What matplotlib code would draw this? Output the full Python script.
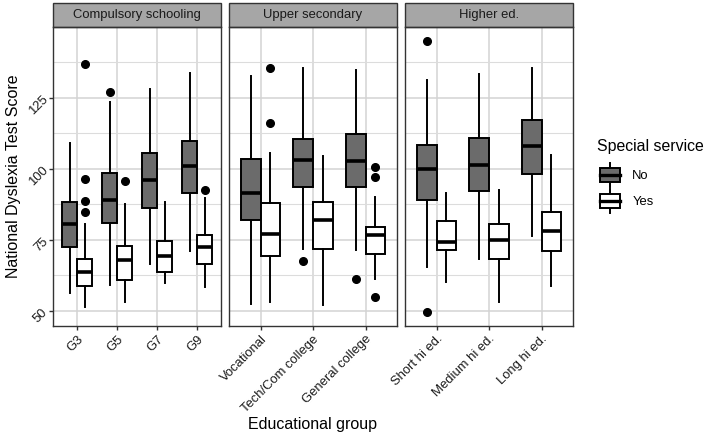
import matplotlib
matplotlib.use("Agg")
import matplotlib.pyplot as plt
from matplotlib.patches import Patch, Rectangle
from matplotlib.lines import Line2D
from matplotlib.legend_handler import HandlerBase

plt.rcParams["font.family"] = ["Liberation Sans", "DejaVu Sans"]

# ── data (whislo, q1, median, q3, whishi) ─────────────────────────────────────
comp_groups = ["G3", "G5", "G7", "G9"]
comp_no_stats = [
    [56.2, 72.3, 80.4, 88.3, 109.0],
    [58.9, 80.8, 89.0, 98.6, 123.6],
    [66.6, 86.3, 96.0, 105.6, 127.9],
    [70.9, 91.5, 100.8, 109.8, 133.8],
]
comp_no_out = [[], [126.9], [], []]
comp_yes_stats = [
    [51.4, 58.6, 63.5, 68.3, 80.6],
    [53.1, 60.7, 67.8, 72.8, 87.6],
    [59.8, 63.5, 69.2, 74.5, 88.2],
    [58.2, 66.6, 72.3, 76.8, 89.7],
]
comp_yes_out = [[136.7, 96.3, 88.5, 84.9], [95.6], [], [92.5]]

upper_groups = ["Vocational", "Tech/Com college", "General college"]
upper_no_stats = [
    [52.3, 81.8, 91.6, 103.4, 132.8],
    [71.8, 93.5, 103.2, 110.6, 135.5],
    [71.5, 93.6, 102.6, 112.2, 134.7],
]
upper_no_out = [[], [67.4], [61.2]]
upper_yes_stats = [
    [53.1, 69.2, 77.1, 88.0, 105.6],
    [52.0, 71.8, 81.9, 88.4, 104.4],
    [61.0, 69.8, 76.5, 79.4, 89.9],
]
upper_yes_out = [[135.5, 116.0], [], [100.5, 97.0, 54.9]]

higher_groups = ["Short hi ed.", "Medium hi ed.", "Long hi ed."]
higher_no_stats = [
    [65.4, 88.9, 99.9, 108.2, 131.2],
    [68.3, 92.3, 101.3, 110.9, 133.5],
    [76.4, 98.0, 108.0, 117.2, 135.6],
]
higher_no_out = [[145.1, 49.4], [], []]
higher_yes_stats = [
    [60.1, 71.3, 74.3, 81.5, 91.6],
    [52.9, 68.2, 74.8, 80.6, 92.5],
    [58.6, 70.9, 78.0, 84.9, 104.8],
]
higher_yes_out = [[], [], []]

panels = [
    ("Compulsory schooling", comp_groups, comp_no_stats, comp_no_out, comp_yes_stats, comp_yes_out),
    ("Upper secondary", upper_groups, upper_no_stats, upper_no_out, upper_yes_stats, upper_yes_out),
    ("Higher ed.", higher_groups, higher_no_stats, higher_no_out, higher_yes_stats, higher_yes_out),
]

# ── style ─────────────────────────────────────────────────────────────────────
FILL_NO = "#6b6b6b"
FILL_YES = "#ffffff"
GRID = "#d3d3d3"
GRID_MINOR = "#dcdcdc"
BORDER = "#333333"
STRIP = "#a6a6a6"
TICK_FS = 9.4
TITLE_FS = 11.5
LW = 1.4


def to_bxp(stats, outs):
    return [dict(whislo=s[0], q1=s[1], med=s[2], q3=s[3], whishi=s[4], fliers=o)
            for s, o in zip(stats, outs)]


class BoxKeyHandler(HandlerBase):
    def create_artists(self, legend, orig_handle, xdescent, ydescent,
                       width, height, fontsize, trans):
        fc = orig_handle.get_facecolor()
        cx = width / 2 - xdescent
        bw = width * 0.9
        bh = height * 0.58
        y0 = -ydescent
        whisk = Line2D([cx, cx], [y0, y0 + height], color="black", lw=LW, transform=trans)
        rect = Rectangle((cx - bw / 2, y0 + (height - bh) / 2), bw, bh,
                         facecolor=fc, edgecolor="black", lw=LW, transform=trans)
        med = Line2D([cx - bw / 2, cx + bw / 2], [y0 + height / 2] * 2,
                     color="black", lw=2.4, transform=trans)
        return [whisk, rect, med]


# ── figure ────────────────────────────────────────────────────────────────────
W, H = 708, 438
fig = plt.figure(figsize=(W / 100, H / 100), dpi=100)

all_vals = []
for _, _, ns, no, ys, yo in panels:
    for s in ns + ys:
        all_vals += s
    for o in no + yo:
        all_vals += o
vmin, vmax = min(all_vals), max(all_vals)
pad = (vmax - vmin) * 0.05
ylim = (vmin - pad, vmax + pad)

panel_left = [53, 229, 405]
panel_w = 168
panel_top, panel_bot = 27, 326
strip_h = 24

axes = []
for i, (title, groups, ns, no, ys, yo) in enumerate(panels):
    ax = fig.add_axes([panel_left[i] / W, 1 - panel_bot / H,
                       panel_w / W, (panel_bot - panel_top) / H])
    axes.append(ax)
    n = len(groups)
    pos = list(range(n))
    common = dict(widths=0.375, showcaps=False, patch_artist=True,
                  whiskerprops=dict(color="black", lw=LW),
                  medianprops=dict(color="black", lw=2.6, solid_capstyle="butt"),
                  flierprops=dict(marker="o", markerfacecolor="black",
                                  markeredgecolor="black", markersize=5.5))
    ax.bxp(to_bxp(ns, no), positions=[p - 0.1875 for p in pos],
           boxprops=dict(facecolor=FILL_NO, edgecolor="black", lw=LW), **common)
    ax.bxp(to_bxp(ys, yo), positions=[p + 0.1875 for p in pos],
           boxprops=dict(facecolor=FILL_YES, edgecolor="black", lw=LW), **common)

    ax.set_xlim(-0.6, n - 1 + 0.6)
    ax.set_ylim(*ylim)
    ax.set_xticks(pos)
    ax.set_xticklabels(groups, rotation=45, ha="right", va="top",
                       rotation_mode="anchor", fontsize=TICK_FS, color="#1a1a1a")
    ax.set_yticks([50, 75, 100, 125])
    ax.set_yticks([62.5, 87.5, 112.5, 137.5], minor=True)
    ax.set_axisbelow(True)
    ax.grid(True, which="major", color=GRID, lw=1.1)
    ax.grid(True, which="minor", axis="y", color=GRID_MINOR, lw=0.8)
    ax.tick_params(axis="both", which="major", length=3, width=1, color=BORDER, pad=2)
    ax.tick_params(axis="y", which="minor", length=0)
    if i == 0:
        ax.set_yticklabels(["50", "75", "100", "125"], rotation=45, ha="right",
                           va="center", rotation_mode="anchor",
                           fontsize=TICK_FS, color="#1a1a1a")
    else:
        ax.tick_params(axis="y", which="major", length=0, labelleft=False)
    for sp in ax.spines.values():
        sp.set_color(BORDER)
        sp.set_linewidth(1.0)

    # facet strip
    sh = strip_h / (panel_bot - panel_top)
    ax.add_patch(Rectangle((0, 1), 1, sh, transform=ax.transAxes, clip_on=False,
                           facecolor=STRIP, edgecolor=BORDER, lw=1.0))
    ax.text(0.5, 1 + sh / 2, title, transform=ax.transAxes, ha="center",
            va="center", fontsize=TICK_FS, color="#1a1a1a")

fig.text(14 / W, 1 - 176.5 / H, "National Dyslexia Test Score", rotation=90,
         ha="center", va="center", fontsize=TITLE_FS)
fig.text(313 / W, 1 - 425 / H, "Educational group", ha="center", va="center",
         fontsize=TITLE_FS)

# legend
fig.text(597 / W, 1 - 147 / H, "Special service", ha="left", va="center",
         fontsize=11.4)
handles = [Patch(facecolor=FILL_NO, label="No"), Patch(facecolor=FILL_YES, label="Yes")]
fig.legend(handles=handles, labels=["No", "Yes"],
           loc="upper left", bbox_to_anchor=(599 / W, 1 - 163 / H),
           frameon=False, fontsize=TICK_FS,
           handler_map={Patch: BoxKeyHandler()}, handlelength=1.7,
           handleheight=2.45, labelspacing=0.13, handletextpad=0.85,
           borderpad=0, borderaxespad=0)

fig.savefig("out.png", dpi=100)
